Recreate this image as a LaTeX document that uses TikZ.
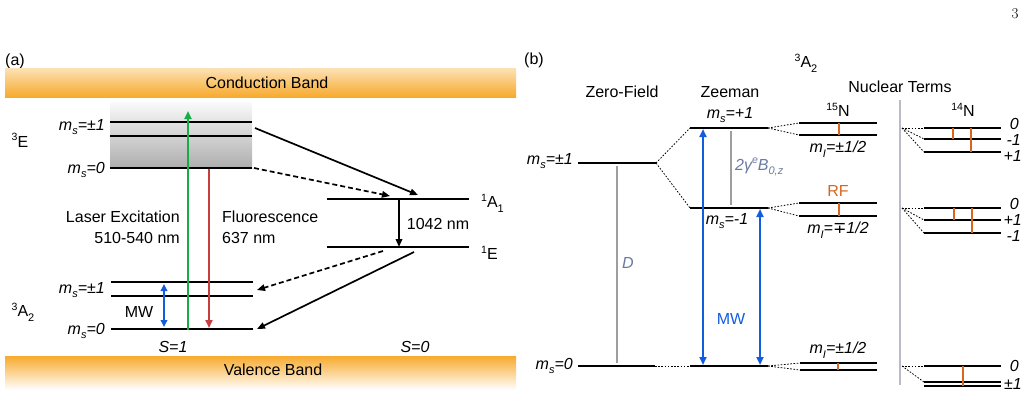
\documentclass[tikz,border=0pt]{standalone}
\usepackage{fontspec}
\setsansfont{Liberation Sans}
\newfontfamily\djv{DejaVu Sans}
\usetikzlibrary{arrows.meta}
\definecolor{bandorange}{RGB}{247,170,45}
\definecolor{mwblue}{RGB}{18,92,222}
\definecolor{lasergreen}{RGB}{22,172,72}
\definecolor{fluored}{RGB}{200,62,62}
\definecolor{rforange}{RGB}{214,102,32}
\definecolor{slate}{RGB}{105,122,162}
\definecolor{sepgray}{RGB}{185,188,196}
\newcommand\mysub[1]{\raisebox{-0.28em}{\fontsize{11}{11}\selectfont #1}}
\newcommand\mysup[1]{\raisebox{0.42em}{\fontsize{10.5}{10.5}\selectfont #1}}
\begin{document}
\begin{tikzpicture}[x=1pt,y=-1pt,
  every node/.style={font=\sffamily\fontsize{16}{19}\selectfont, inner sep=0pt},
  it/.style={font=\sffamily\itshape\fontsize{16}{19}\selectfont},
  level/.style={line width=1.8pt, black},
  dots/.style={line width=0.8pt, dash pattern=on 1.6pt off 1.6pt},
  arr/.style={line width=1.7pt, -{Triangle[length=8pt,width=6.5pt]}},
  dasharr/.style={arr, dash pattern=on 5pt off 3pt},
  tick/.style={line width=2pt, rforange},
  graybar/.style={line width=2.2pt, black!38},
  mwarr/.style={line width=2.4pt, mwblue, {Triangle[length=8pt,width=7pt]}-{Triangle[length=8pt,width=7pt]}}
]
\useasboundingbox (0,0) rectangle (1028,416);

% page number
\node[font=\rmfamily\fontsize{15}{17}\selectfont] (pg) at (1015,14) {3};

% ================= panel (a) =================
\node (la) at (15,61) {(a)};
\shade[top color=bandorange!35, bottom color=bandorange] (5,68) rectangle (516,97);
\shade[top color=bandorange, bottom color=white] (5,356) rectangle (516,390);
\node (cb) at (267,83) {Conduction Band};
\node (vb) at (273,370) {Valence Band};

% 3E
\shade[top color=black!2, bottom color=black!32] (110,102) rectangle (252,168);
\coordinate (Ea1) at (110,122); \coordinate (Ea2) at (252,122);
\coordinate (Eb1) at (110,136); \coordinate (Eb2) at (252,136);
\coordinate (Ec1) at (110,168); \coordinate (Ec2) at (252,168);
\draw[level] (Ea1) -- (Ea2);
\draw[level] (Eb1) -- (Eb2);
\draw[level] (Ec1) -- (Ec2);
\node (tE) at (20,140) {\mysup{3}E};
\node[it, anchor=east] (tEp) at (105,127) {m\mysub{s}=±1};
\node[it, anchor=east] (tE0) at (105,170) {m\mysub{s}=0};

% 3A2
\coordinate (Aa1) at (111,282); \coordinate (Aa2) at (253,282);
\coordinate (Ab1) at (111,296); \coordinate (Ab2) at (253,296);
\coordinate (Ac1) at (111,329); \coordinate (Ac2) at (253,329);
\draw[level] (Aa1) -- (Aa2);
\draw[level] (Ab1) -- (Ab2);
\draw[level] (Ac1) -- (Ac2);
\node (tA) at (23,312) {\mysup{3}A\mysub{2}};
\node[it, anchor=east] (tAp) at (105,290) {m\mysub{s}=±1};
\node[it, anchor=east] (tA0) at (105,331) {m\mysub{s}=0};
\node (mwa) at (139,312) {MW};
\node[it] (s1) at (173,347) {S=1};
\node[it] (s0) at (415,347) {S=0};

% optical arrows
\coordinate (g0) at (188,330); \coordinate (g1) at (188,111);
\coordinate (r0) at (209,169); \coordinate (r1) at (209,328);
\draw[line width=2.6pt, lasergreen, -{Triangle[length=8pt,width=7pt]}] (g0) -- (g1);
\draw[line width=2.6pt, fluored, -{Triangle[length=8pt,width=7pt]}] (r0) -- (r1);
\coordinate (m0) at (164,284); \coordinate (m1) at (164,327);
\draw[line width=2.2pt, mwblue, {Triangle[length=7pt,width=6.5pt]}-{Triangle[length=7pt,width=6.5pt]}] (m0) -- (m1);
\node[anchor=east] (le1) at (180,217) {Laser Excitation};
\node[anchor=east] (le2) at (180,238) {510-540 nm};
\node[anchor=west] (fl1) at (222,217) {Fluorescence};
\node[anchor=west] (fl2) at (222,238) {637 nm};

% singlets
\coordinate (S1a) at (327,199); \coordinate (S1b) at (469,199);
\coordinate (S2a) at (327,247); \coordinate (S2b) at (469,247);
\draw[level] (S1a) -- (S1b);
\draw[level] (S2a) -- (S2b);
\node[anchor=west] (tA1) at (481,203) {\mysup{1}A\mysub{1}};
\node[anchor=west] (t1E) at (481,253) {\mysup{1}E};
\coordinate (ir0) at (399,200); \coordinate (ir1) at (399,247);
\draw[arr] (ir0) -- (ir1);
\node (ir) at (438,224) {1042 nm};

% ISC arrows
\coordinate (x1s) at (255,128); \coordinate (x1e) at (418,195);
\coordinate (x2s) at (254,168); \coordinate (x2e) at (390,196);
\coordinate (x3s) at (383,251); \coordinate (x3e) at (257,290);
\coordinate (x4s) at (414,252); \coordinate (x4e) at (257,329);
\draw[arr] (x1s) -- (x1e);
\draw[dasharr] (x2s) -- (x2e);
\draw[dasharr] (x3s) -- (x3e);
\draw[arr] (x4s) -- (x4e);

% ================= panel (b) =================
\node (lb) at (534,60) {(b)};
\node (tA2b) at (806,63) {\mysup{3}A\mysub{2}};
\node (zf) at (622,92) {Zero-Field};
\node (zm) at (730,92) {Zeeman};
\node (nt) at (900,87) {Nuclear Terms};

% zero-field
\coordinate (zp1) at (578,163); \coordinate (zp2) at (656,163);
\coordinate (z01) at (578,366); \coordinate (z02) at (655,366);
\draw[level] (zp1) -- (zp2);
\draw[level] (z01) -- (z02);
\node[it, anchor=east] (tzp) at (573,161) {m\mysub{s}=±1};
\node[it, anchor=east] (tz0) at (573,366) {m\mysub{s}=0};
\coordinate (D0) at (617,166); \coordinate (D1) at (617,363);
\draw[graybar] (D0) -- (D1);
\node[it, text=slate, anchor=west] (tD) at (622,263) {D};

% Zeeman
\coordinate (zep1) at (690,128); \coordinate (zep2) at (768,128);
\coordinate (zem1) at (690,208); \coordinate (zem2) at (768,208);
\coordinate (ze01) at (690,366); \coordinate (ze02) at (768,366);
\draw[level] (zep1) -- (zep2);
\draw[level] (zem1) -- (zem2);
\draw[level] (ze01) -- (ze02);
\draw[dots] (zp2) -- (zep1);
\draw[dots] (zp2) -- (zem1);
\draw[dots] (z02) -- (ze01);
\node[it] (tzep) at (730,115) {m\mysub{s}=+1};
\node[it] (tzem) at (727,221) {m\mysub{s}=-1};
\coordinate (G0) at (731,131); \coordinate (G1) at (731,205);
\draw[graybar] (G0) -- (G1);
\node[it, text=slate, anchor=west] (tG) at (735,167) {2γ\mysup{e}B\mysub{0,z}};
\coordinate (b10) at (703,365); \coordinate (b11) at (703,129);
\coordinate (b20) at (760,365); \coordinate (b21) at (760,209);
\draw[mwarr] (b10) -- (b11);
\draw[mwarr] (b20) -- (b21);
\node[text=mwblue] (mwb) at (731,319) {MW};

% 15N
\node (n15) at (838,110) {\mysup{15}N};
\coordinate (Na1) at (799,123); \coordinate (Na2) at (877,123);
\coordinate (Nb1) at (799,135); \coordinate (Nb2) at (877,135);
\coordinate (Nc1) at (799,203); \coordinate (Nc2) at (877,203);
\coordinate (Nd1) at (799,216); \coordinate (Nd2) at (877,216);
\coordinate (Ne1) at (800,363); \coordinate (Ne2) at (877,363);
\coordinate (Nf1) at (800,370); \coordinate (Nf2) at (877,370);
\foreach \p in {Na,Nb,Nc,Nd,Ne,Nf} \draw[level] (\p1) -- (\p2);
\draw[dots] (zep2) -- (Na1); \draw[dots] (zep2) -- (Nb1);
\draw[dots] (zem2) -- (Nc1); \draw[dots] (zem2) -- (Nd1);
\draw[dots] (ze02) -- (Ne1); \draw[dots] (ze02) -- (Nf1);
\coordinate (t1a) at (839,123); \coordinate (t1b) at (839,135);
\coordinate (t2a) at (839,203); \coordinate (t2b) at (839,216);
\coordinate (t3a) at (838,363); \coordinate (t3b) at (838,370);
\draw[tick] (t1a) -- (t1b);
\draw[tick] (t2a) -- (t2b);
\draw[tick] (t3a) -- (t3b);
\node[it] (mi1) at (838,149) {m\mysub{I}=±1/2};
\node[text=rforange] (rf) at (838,191) {RF};
\node[it] (mi2) at (838,230) {m\mysub{I}={\djv\itshape ∓}1/2};
\node[it] (mi3) at (838,350) {m\mysub{I}=±1/2};

% separator
\coordinate (sp0) at (900,100); \coordinate (sp1) at (900,385);
\draw[line width=2.2pt, sepgray] (sp0) -- (sp1);

% 14N
\node (n14) at (963,110) {\mysup{14}N};
\coordinate (fa) at (902,128);
\coordinate (fb) at (902,208);
\coordinate (fc) at (902,366);
\coordinate (Ma1) at (924,128); \coordinate (Ma2) at (1001,128);
\coordinate (Mb1) at (924,139); \coordinate (Mb2) at (1001,139);
\coordinate (Mc1) at (924,152); \coordinate (Mc2) at (1001,152);
\coordinate (Md1) at (924,208); \coordinate (Md2) at (1001,208);
\coordinate (Me1) at (924,220); \coordinate (Me2) at (1001,220);
\coordinate (Mf1) at (924,233); \coordinate (Mf2) at (1001,233);
\coordinate (Mg1) at (924,366); \coordinate (Mg2) at (1001,366);
\coordinate (Mh1) at (924,382); \coordinate (Mh2) at (1001,382);
\coordinate (Mi1) at (924,386); \coordinate (Mi2) at (1001,386);
\foreach \p in {Ma,Mb,Mc,Md,Me,Mf,Mg} \draw[level] (\p1) -- (\p2);
\draw[line width=1.5pt] (Mh1) -- (Mh2);
\draw[line width=1.5pt] (Mi1) -- (Mi2);
\draw[dots] (fa) -- (Ma1); \draw[dots] (fa) -- (Mb1); \draw[dots] (fa) -- (Mc1);
\draw[dots] (fb) -- (Md1); \draw[dots] (fb) -- (Me1); \draw[dots] (fb) -- (Mf1);
\draw[dots] (fc) -- (Mg1); \draw[dots] (fc) -- (Mh1);
\coordinate (u1a) at (953,128); \coordinate (u1b) at (953,139);
\coordinate (u2a) at (971,128); \coordinate (u2b) at (971,152);
\coordinate (u3a) at (954,208); \coordinate (u3b) at (954,220);
\coordinate (u4a) at (972,208); \coordinate (u4b) at (972,233);
\coordinate (u5a) at (963,366); \coordinate (u5b) at (963,386);
\foreach \p in {u1,u2,u3,u4,u5} \draw[tick] (\p a) -- (\p b);
\node[it, anchor=east] (l1) at (1019,124) {0};
\node[it, anchor=east] (l2) at (1021,140) {-1};
\node[it, anchor=east] (l3) at (1022,156) {+1};
\node[it, anchor=east] (l4) at (1019,204) {0};
\node[it, anchor=east] (l5) at (1022,220) {+1};
\node[it, anchor=east] (l6) at (1021,236) {-1};
\node[it, anchor=east] (l7) at (1019,366) {0};
\node[it, anchor=east] (l8) at (1022,384) {±1};
\end{tikzpicture}
\end{document}
